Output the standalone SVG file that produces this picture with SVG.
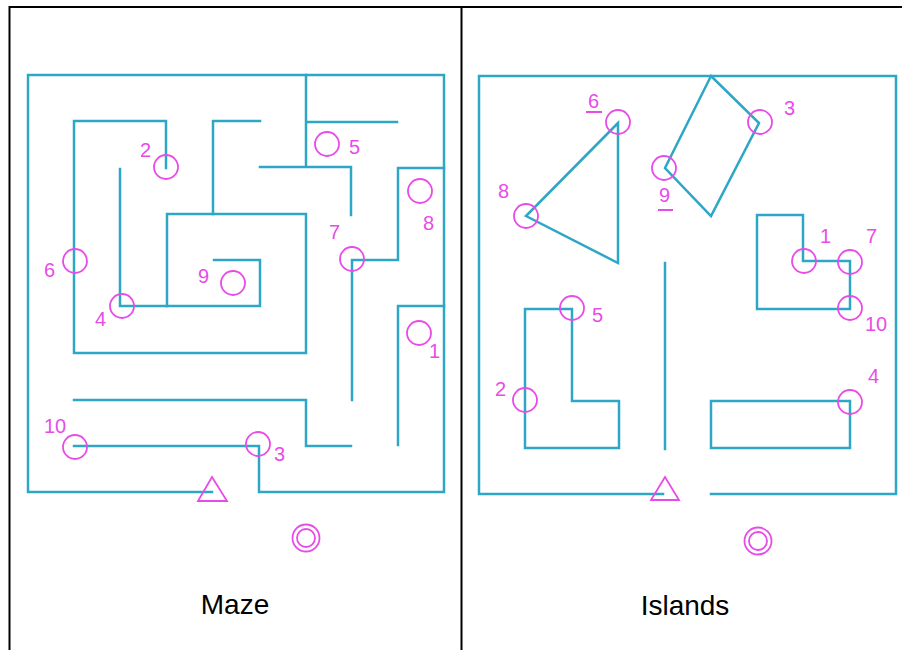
<svg xmlns="http://www.w3.org/2000/svg" width="902" height="650" viewBox="0 0 902 650">
<style>
.frame{fill:none;stroke:#000;stroke-width:2}
.wall{fill:none;stroke:#2ea6c6;stroke-width:2.5;stroke-linecap:square;stroke-linejoin:miter}
.mk{fill:none;stroke:#e84ce8;stroke-width:1.8}
.lbl{font-family:"Liberation Sans",Arial,sans-serif;font-size:20px;fill:#e84ce8}
.title{font-family:"Liberation Sans",Arial,sans-serif;font-size:28px;fill:#000;text-anchor:middle}
</style>
<rect width="902" height="650" fill="#fff"/>
<g id="table">
<path class="frame" d="M9.5,660 V7 H910 M461.5,7 V660"/>
</g>
<g id="maze">
<g id="maze-walls">
<path class="wall" d="M212,492 H28 V75 H444 V492 H259 V446 H74"/>
<path class="wall" d="M306,75 V167 M306,122 H397 M260,167 H351 V215"/>
<path class="wall" d="M444,168 H398 V260 H352 V400"/>
<path class="wall" d="M166,168 V121 H74 V353 H306 V214 H167 V306"/>
<path class="wall" d="M213,214 V121 H260"/>
<path class="wall" d="M120,169 V306 H260 V260 H214"/>
<path class="wall" d="M444,306 H398 V445"/>
<path class="wall" d="M74,400 H306 V446 H351"/>
</g>
<g id="maze-marks">
<circle class="mk" cx="166" cy="167" r="12"/>
<circle class="mk" cx="327" cy="144" r="12"/>
<circle class="mk" cx="420" cy="191" r="12"/>
<circle class="mk" cx="352" cy="259" r="12"/>
<circle class="mk" cx="75" cy="261" r="12"/>
<circle class="mk" cx="233" cy="283" r="12"/>
<circle class="mk" cx="122" cy="306" r="12"/>
<circle class="mk" cx="419" cy="333" r="12"/>
<circle class="mk" cx="75" cy="447" r="12"/>
<circle class="mk" cx="258" cy="444" r="12"/>
<path class="mk" d="M212,477 L227,501 H198 Z"/>
<circle class="mk" cx="306" cy="538" r="13.5"/>
<circle class="mk" cx="306" cy="538" r="9"/>
</g>
<g id="maze-labels">
<text class="lbl" x="140" y="157">2</text>
<text class="lbl" x="349" y="154">5</text>
<text class="lbl" x="423" y="230">8</text>
<text class="lbl" x="329" y="239">7</text>
<text class="lbl" x="44" y="277">6</text>
<text class="lbl" x="198" y="283">9</text>
<text class="lbl" x="95" y="326">4</text>
<text class="lbl" x="429" y="358">1</text>
<text class="lbl" x="44" y="433">10</text>
<text class="lbl" x="274" y="461">3</text>
</g>
<text class="title" x="235" y="614">Maze</text>
</g>
<g id="islands">
<g id="island-walls">
<path class="wall" d="M663,494 H479 V76 H896 V494 H711"/>
<path class="wall" d="M618,123 L526,216 L618,263 Z"/>
<path class="wall" d="M711,76 L759,123 L711,216 L665,168 Z"/>
<path class="wall" d="M665,263 V449"/>
<path class="wall" d="M525,309 H572 V401 H619 V448 H525 Z"/>
<path class="wall" d="M711,401 H850 V448 H711 Z"/>
<path class="wall" d="M803,215 H757 V309 H850 V261 H803 Z"/>
</g>
<g id="island-marks">
<circle class="mk" cx="618" cy="122" r="12"/>
<circle class="mk" cx="760" cy="122" r="12"/>
<circle class="mk" cx="664" cy="168" r="12"/>
<circle class="mk" cx="526" cy="216" r="12"/>
<circle class="mk" cx="572" cy="308" r="12"/>
<circle class="mk" cx="525" cy="400" r="12"/>
<circle class="mk" cx="850" cy="402" r="12"/>
<circle class="mk" cx="804" cy="261" r="12"/>
<circle class="mk" cx="850" cy="262" r="12"/>
<circle class="mk" cx="850" cy="308" r="12"/>
<path class="mk" d="M665,477 L679,500 H651 Z"/>
<circle class="mk" cx="758" cy="541" r="13.5"/>
<circle class="mk" cx="758" cy="541" r="9"/>
<path class="mk" d="M586,112 H602 M658,210 H673"/>
</g>
<g id="island-labels">
<text class="lbl" x="588" y="108">6</text>
<text class="lbl" x="784" y="115">3</text>
<text class="lbl" x="498" y="198">8</text>
<text class="lbl" x="659" y="202">9</text>
<text class="lbl" x="592" y="322">5</text>
<text class="lbl" x="495" y="396">2</text>
<text class="lbl" x="868" y="383">4</text>
<text class="lbl" x="820" y="243">1</text>
<text class="lbl" x="866" y="243">7</text>
<text class="lbl" x="865" y="331">10</text>
</g>
<text class="title" x="685" y="615">Islands</text>
</g>
</svg>
